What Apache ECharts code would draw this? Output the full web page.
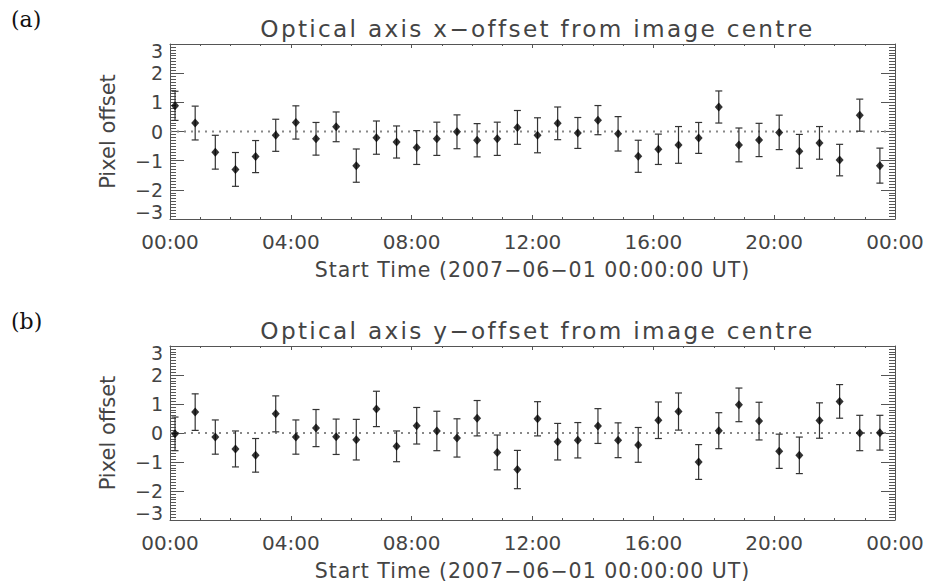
<!DOCTYPE html>
<html>
<head>
<meta charset="utf-8">
<script src="https://cdn.jsdelivr.net/npm/echarts@6/dist/echarts.min.js"></script>
<style>
html,body{margin:0;padding:0;background:#fff;}
#c{width:929px;height:586px;}
#c text[style*="23.2px"]{letter-spacing:2.3px;}
#c text[style*="20.5px"]{letter-spacing:1px;}
</style>
</head>
<body>
<div id="c"></div>
<script>
const times = ["00:10","00:50","01:30","02:10","02:50","03:30","04:10","04:50","05:30","06:10","06:50","07:30","08:10","08:50","09:30","10:10","10:50","11:30","12:10","12:50","13:30","14:10","14:50","15:30","16:10","16:50","17:30","18:10","18:50","19:30","20:10","20:50","21:30","22:10","22:50","23:30"];
const valA = [0.88,0.29,-0.71,-1.30,-0.86,-0.13,0.31,-0.25,0.16,-1.17,-0.21,-0.36,-0.55,-0.25,-0.01,-0.30,-0.25,0.14,-0.13,0.28,-0.05,0.39,-0.08,-0.85,-0.61,-0.46,-0.22,0.84,-0.46,-0.29,-0.03,-0.68,-0.39,-0.98,0.56,-1.17];
const errA = [0.50,0.58,0.58,0.58,0.55,0.55,0.57,0.56,0.51,0.57,0.57,0.55,0.58,0.57,0.58,0.57,0.57,0.58,0.60,0.56,0.53,0.50,0.59,0.55,0.52,0.63,0.53,0.55,0.58,0.57,0.59,0.58,0.56,0.54,0.55,0.60];
const valB = [-0.03,0.72,-0.14,-0.55,-0.77,0.66,-0.14,0.17,-0.13,-0.23,0.83,-0.46,0.25,0.07,-0.17,0.51,-0.67,-1.26,0.49,-0.30,-0.25,0.24,-0.25,-0.41,0.44,0.74,-1.00,0.08,0.97,0.41,-0.63,-0.77,0.43,1.09,0.00,0.01];
const errB = [0.58,0.63,0.59,0.62,0.58,0.62,0.59,0.64,0.61,0.70,0.61,0.53,0.63,0.68,0.66,0.61,0.60,0.66,0.59,0.63,0.61,0.60,0.60,0.60,0.63,0.64,0.60,0.62,0.58,0.65,0.59,0.63,0.61,0.58,0.61,0.60];
const xTickLabels = ["00:00","04:00","08:00","12:00","16:00","20:00","00:00"];
const titleA = "Optical axis x\u2212offset from image centre";
const titleB = "Optical axis y\u2212offset from image centre";
const xName = "Start Time (2007\u221206\u221201 00:00:00 UT)";
const yName = "Pixel offset";

const toHours = s => { const p = s.split(":"); return +p[0] + (+p[1]) / 60; };
const hours = times.map(toHours);

const FONT = "DejaVu Sans";
const TXT = "#444";
const AX = "#555";

function pts(v) { return hours.map((h, i) => [h, v[i]]); }
function bars(v, e) { return hours.map((h, i) => [h, v[i] - e[i], v[i] + e[i]]); }

function errRender(params, api) {
  const x = api.value(0), lo = api.value(1), hi = api.value(2);
  const a = api.coord([x, lo]), b = api.coord([x, hi]);
  const w = 3.5;
  const st = { stroke: "#333", lineWidth: 1.2 };
  return { type: "group", children: [
    { type: "line", shape: { x1: a[0], y1: a[1], x2: b[0], y2: b[1] }, style: st },
    { type: "line", shape: { x1: a[0] - w, y1: a[1], x2: a[0] + w, y2: a[1] }, style: st },
    { type: "line", shape: { x1: b[0] - w, y1: b[1], x2: b[0] + w, y2: b[1] }, style: st }
  ]};
}

function xAxisPair(gi) {
  const common = {
    type: "value", gridIndex: gi, min: 0, max: 24, interval: 4,
    axisLine: { show: true, onZero: false, lineStyle: { color: AX, width: 1 } },
    axisTick: { show: true, inside: true, length: 4, lineStyle: { color: AX } },
    minorTick: { show: true, splitNumber: 4, length: 2, lineStyle: { color: AX } },
    splitLine: { show: false }
  };
  return [
    Object.assign({}, common, {
      position: "bottom",
      axisLabel: { show: true, margin: 13, fontFamily: FONT, fontSize: 20, color: TXT,
        showMinLabel: true, showMaxLabel: true,
        formatter: v => xTickLabels[Math.round(v / 4)] },
      name: xName, nameLocation: "middle", nameGap: 40,
      nameTextStyle: { fontFamily: FONT, fontSize: 20.5, color: TXT }
    }),
    Object.assign({}, common, { position: "top", axisLabel: { show: false } })
  ];
}

function yAxisPair(gi) {
  const common = {
    type: "value", gridIndex: gi, min: -3, max: 3, interval: 1,
    axisLine: { show: true, onZero: false, lineStyle: { color: AX, width: 1 } },
    axisTick: { show: true, inside: true, length: 14, lineStyle: { color: AX } },
    minorTick: { show: true, splitNumber: 10, length: 6, lineStyle: { color: AX } },
    splitLine: { show: false }
  };
  return [
    Object.assign({}, common, {
      position: "left",
      axisLabel: { show: true, margin: 7, fontFamily: FONT, fontSize: 19, lineHeight: 14, color: TXT,
        showMinLabel: true, showMaxLabel: true,
        verticalAlignMaxLabel: "top", verticalAlignMinLabel: "bottom",
        formatter: v => String(v).replace("-", "\u2212") },
      name: yName, nameLocation: "middle", nameGap: 52, nameRotate: 90,
      nameTextStyle: { fontFamily: FONT, fontSize: 21, color: TXT }
    }),
    Object.assign({}, common, { position: "right", axisLabel: { show: false } })
  ];
}

function panelSeries(gi, v, e) {
  const xi = gi * 2, yi = gi * 2;
  return [
    { type: "line", xAxisIndex: xi, yAxisIndex: yi, data: [[0, 0], [24, 0]], symbol: "none",
      lineStyle: { color: "#888", width: 2, type: [2, 5] }, silent: true, z: 1 },
    { type: "custom", xAxisIndex: xi, yAxisIndex: yi, data: bars(v, e), renderItem: errRender,
      encode: { x: 0, y: [1, 2] }, z: 2 },
    { type: "scatter", xAxisIndex: xi, yAxisIndex: yi, data: pts(v), symbol: "diamond",
      symbolSize: [8, 9], itemStyle: { color: "#000" }, z: 3 }
  ];
}

const option = {
  animation: false,
  backgroundColor: "#fff",
  title: [
    { text: "(a)", left: 6, top: 3, textStyle: { fontFamily: "DejaVu Serif", fontSize: 22, fontWeight: "normal", color: "#111" } },
    { text: titleA, left: 532.5, textAlign: "center", top: 12, textStyle: { fontFamily: FONT, fontSize: 23.2, fontWeight: "normal", color: TXT } },
    { text: "(b)", left: 6, top: 305, textStyle: { fontFamily: "DejaVu Serif", fontSize: 22, fontWeight: "normal", color: "#111" } },
    { text: titleB, left: 532.5, textAlign: "center", top: 314, textStyle: { fontFamily: FONT, fontSize: 23.2, fontWeight: "normal", color: TXT } }
  ],
  grid: [
    { left: 170, top: 44, width: 725, height: 175 },
    { left: 170, top: 346, width: 725, height: 174 }
  ],
  xAxis: [...xAxisPair(0), ...xAxisPair(1)],
  yAxis: [...yAxisPair(0), ...yAxisPair(1)],
  series: [...panelSeries(0, valA, errA), ...panelSeries(1, valB, errB)]
};

const chart = echarts.init(document.getElementById("c"), null, { renderer: "svg" });
chart.setOption(option);
</script>
</body>
</html>
